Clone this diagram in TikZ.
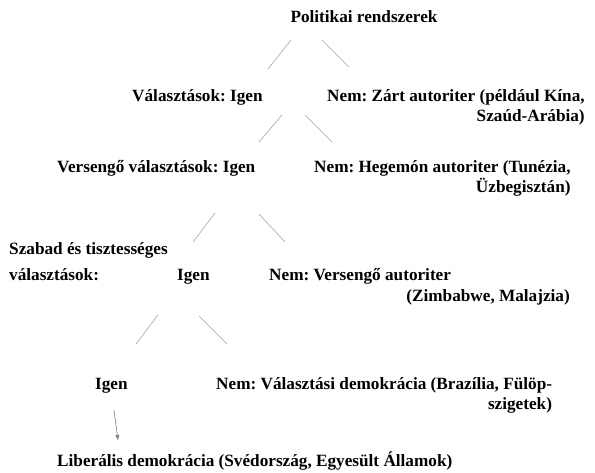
\documentclass[tikz,border=0pt]{standalone}
\usepackage{fontspec}
\setmainfont{Liberation Serif}
\usetikzlibrary{arrows.meta}
\frenchspacing
\begin{document}
\begin{tikzpicture}[x=1pt,y=-1pt,
  lbl/.style={inner sep=0pt,font=\fontsize{17.2}{20}\selectfont\bfseries},
  edge/.style={draw=black!35,line width=0.6pt},
  arr/.style={draw=black!50,line width=0.6pt,-{Triangle[length=5pt,width=4pt]}}]
\useasboundingbox[fill=white] (0,0) rectangle (595,472);
\node[lbl,anchor=base] (top) at (364,22) {Politikai rendszerek};
\node[lbl,anchor=base west] (v1) at (132,101) {Választások: Igen};
\node[lbl,anchor=base west] (n1a) at (327,101) {Nem: Zárt autoriter (például Kína,};
\node[lbl,anchor=base east] (n1b) at ([yshift=-20pt]n1a.base east) {Szaúd-Arábia)};
\node[lbl,anchor=base west] (v2) at (57,172) {Versengő választások: Igen};
\node[lbl,anchor=base west] (n2a) at (314,172) {Nem: Hegemón autoriter (Tunézia,};
\node[lbl,anchor=base east] (n2b) at ([yshift=-20pt]n2a.base east) {Üzbegisztán)};
\node[lbl,anchor=base west] (s1) at (9,254) {Szabad és tisztességes};
\node[lbl,anchor=base west] (s2) at (9,280) {választások:};
\node[lbl,anchor=base west] (v3) at (177,280) {Igen};
\node[lbl,anchor=base west] (n3a) at (269,280) {Nem: Versengő autoriter};
\node[lbl,anchor=base east] (n3b) at (570,301) {(Zimbabwe, Malajzia)};
\node[lbl,anchor=base west] (v4) at (95,389) {Igen};
\node[lbl,anchor=base west] (n4a) at (216,389) {Nem: Választási demokrácia (Brazília, Fülöp-};
\node[lbl,anchor=base east] (n4b) at ([yshift=-20pt]n4a.base east) {szigetek)};
\node[lbl,anchor=base west] (lib) at (57,466) {Liberális demokrácia (Svédország, Egyesült Államok)};
% connector end points
\coordinate (a1) at (291,40); \coordinate (a2) at (268,69);
\coordinate (b1) at (322,40); \coordinate (b2) at (349,67);
\coordinate (c1) at (282,115); \coordinate (c2) at (259,142);
\coordinate (d1) at (305,115); \coordinate (d2) at (332,142);
\coordinate (e1) at (215,213); \coordinate (e2) at (193,242);
\coordinate (f1) at (259,214); \coordinate (f2) at (285,242);
\coordinate (g1) at (158,315); \coordinate (g2) at (136,344);
\coordinate (h1) at (199,316); \coordinate (h2) at (227,344);
\coordinate (k1) at (114,410); \coordinate (k2) at (118,440);
\draw[edge] (a1) -- (a2);
\draw[edge] (b1) -- (b2);
\draw[edge] (c1) -- (c2);
\draw[edge] (d1) -- (d2);
\draw[edge] (e1) -- (e2);
\draw[edge] (f1) -- (f2);
\draw[edge] (g1) -- (g2);
\draw[edge] (h1) -- (h2);
\draw[arr] (k1) -- (k2);
\end{tikzpicture}
\end{document}
